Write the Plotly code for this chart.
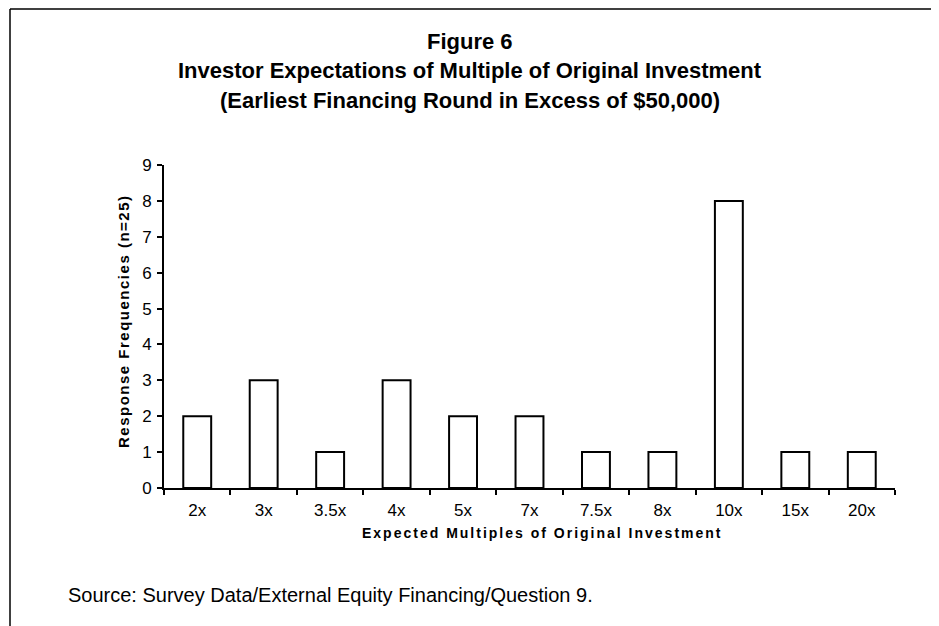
import plotly.graph_objects as go

# data
multiples = ["2x", "3x", "3.5x", "4x", "5x", "7x", "7.5x", "8x", "10x", "15x", "20x"]
frequencies = [2, 3, 1, 3, 2, 2, 1, 1, 8, 1, 1]
y_ticks = list(range(0, 10))

title_lines = [
    "Figure 6",
    "Investor Expectations of Multiple of Original Investment",
    "(Earliest Financing Round in Excess of $50,000)",
]
x_title = "Expected Multiples of Original Investment"
y_title = "Response Frequencies (n=25)"
source_text = "Source: Survey Data/External Equity Financing/Question 9."

# page is offset by the 8px body margin, so work in page pixels and shift
OFF = 8
W, H = 939 - OFF, 626 - OFF
PX0, PX1, PY0, PY1 = 164, 895, 165, 488  # plot area in page pixels
L, T = PX0 - OFF, PY0 - OFF
R, B = W - (PX1 - OFF), H - (PY1 - OFF)
plot_w = PX1 - PX0
plot_h = PY1 - PY0


def px_x(x):
    return (x - PX0) / plot_w


def px_y(y):
    return (PY1 - y) / plot_h


fig = go.Figure()
fig.add_trace(go.Bar(
    x=multiples,
    y=frequencies,
    marker=dict(color="white", line=dict(color="black", width=2)),
    width=0.42,
    showlegend=False,
))

fig.update_layout(
    width=W,
    height=H,
    margin=dict(l=L, r=R, t=T, b=B),
    paper_bgcolor="white",
    plot_bgcolor="white",
    font=dict(family="Liberation Sans, Arial", color="black"),
)

fig.update_xaxes(
    type="category",
    tickson="boundaries",
    ticks="outside",
    ticklen=5,
    tickwidth=1.5,
    tickcolor="black",
    showline=True,
    linecolor="black",
    linewidth=2,
    showgrid=False,
    tickfont=dict(size=17),
    ticklabelstandoff=6,
)
fig.update_yaxes(
    range=[0, 9],
    tickvals=y_ticks,
    ticks="outside",
    ticklen=5,
    tickwidth=1.5,
    tickcolor="black",
    showline=True,
    linecolor="black",
    linewidth=2,
    showgrid=False,
    zeroline=False,
    tickfont=dict(size=17),
    ticklabelstandoff=2,
)

spaced = '<span style="letter-spacing:{}px"><b>{}</b></span>'

# axis titles
fig.add_annotation(
    text=spaced.format(2, x_title), x=px_x(542), y=px_y(533),
    xref="paper", yref="paper", showarrow=False,
    xanchor="center", yanchor="middle", font=dict(size=14),
)
fig.add_annotation(
    text=spaced.format(1.5, y_title), x=px_x(123), y=px_y(321),
    xref="paper", yref="paper", showarrow=False, textangle=-90,
    xanchor="center", yanchor="middle", font=dict(size=15),
)

# title block
for text, ypx in zip(title_lines, [41, 71, 101]):
    fig.add_annotation(
        text=f"<b>{text}</b>", x=px_x(470), y=px_y(ypx),
        xref="paper", yref="paper", showarrow=False,
        xanchor="center", yanchor="middle",
        font=dict(size=22),
    )

fig.add_annotation(
    text=source_text, x=px_x(66), y=px_y(595),
    xref="paper", yref="paper", showarrow=False,
    xanchor="left", yanchor="middle",
    font=dict(size=20),
)

# scanned page frame: left and top edges
fig.add_shape(type="line", xref="paper", yref="paper",
              x0=px_x(10), x1=px_x(10), y0=px_y(626), y1=px_y(9),
              line=dict(color="black", width=1.5))
fig.add_shape(type="line", xref="paper", yref="paper",
              x0=px_x(10), x1=px_x(939), y0=px_y(9), y1=px_y(9),
              line=dict(color="black", width=1.5))

fig.write_html("out.html")
